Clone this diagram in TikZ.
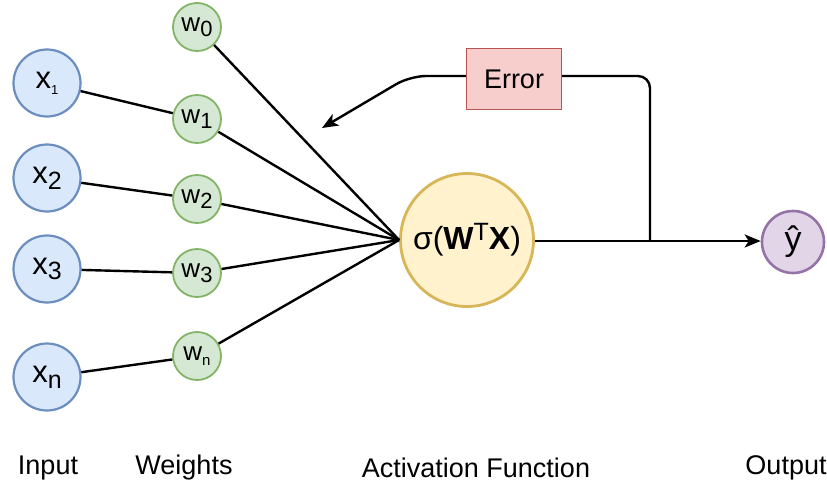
\documentclass[tikz,border=0pt]{standalone}
\usepackage{fontspec}
\setmainfont{Liberation Sans}
\usetikzlibrary{arrows.meta}
\newcommand\lblsize[1]{\fontsize{#1}{#1}\selectfont}
\newcommand\sbs[2]{\raisebox{-0.35ex}{\lblsize{#1}#2}}
\definecolor{inFill}{HTML}{DAE8FC}\definecolor{inLine}{HTML}{6C8EBF}
\definecolor{wFill}{HTML}{D5E8D4}\definecolor{wLine}{HTML}{82B366}
\definecolor{actFill}{HTML}{FFF2CC}\definecolor{actLine}{HTML}{D6B656}
\definecolor{errFill}{HTML}{F8CECC}\definecolor{errLine}{HTML}{B85450}
\definecolor{outFill}{HTML}{E1D5E7}\definecolor{outLine}{HTML}{9673A6}
\begin{document}
\begin{tikzpicture}[x=1pt,y=-1pt,
  innode/.style={circle,draw=inLine,fill=inFill,line width=2.2pt,minimum size=67pt,inner sep=0pt,font=\lblsize{31}},
  wnode/.style={circle,draw=wLine,fill=wFill,line width=1.8pt,minimum size=48pt,inner sep=0pt,font=\lblsize{26}},
  actnode/.style={circle,draw=actLine,fill=actFill,line width=2.8pt,minimum size=133pt,inner sep=0pt,font=\lblsize{32}},
  outnode/.style={circle,draw=outLine,fill=outFill,line width=2.6pt,minimum size=62pt,inner sep=0pt,font=\lblsize{34}},
  errnode/.style={rectangle,draw=errLine,fill=errFill,line width=1.4pt,minimum width=95pt,minimum height=61pt,inner sep=0pt,font=\lblsize{27}},
  caption/.style={font=\lblsize{27},inner sep=0pt},
  link/.style={line width=2.4pt,black},
  tip/.style={-{Stealth[length=16pt,width=13pt,inset=4pt]}}]
\useasboundingbox (0,0) rectangle (827,488);

% inputs
\node[innode] (x1) at (47,83) {x\sbs{13}{1}};
\node[innode] (x2) at (47,178) {x\sbs{25}{2}};
\node[innode] (x3) at (47,269) {x\sbs{25}{3}};
\node[innode] (xn) at (47,377) {x\sbs{25}{n}};

% weights
\node[wnode] (w0) at (197,27) {w\sbs{22}{0}};
\node[wnode] (w1) at (197,119) {w\sbs{22}{1}};
\node[wnode] (w2) at (197,199) {w\sbs{22}{2}};
\node[wnode] (w3) at (197,273) {w\sbs{22}{3}};
\node[wnode] (wn) at (197,356) {w\sbs{15}{n}};

% activation, output, error
\node[actnode] (act) at (467,240) {σ(\textbf{W}\raisebox{0.55ex}{\lblsize{25}T}\textbf{X})};
\node[outnode] (out) at (793,242) {ŷ};
\node[errnode] (err) at (514,79) {Error};

% input to weight links
\draw[link] (x1) -- (w1);
\draw[link] (x2) -- (w2);
\draw[link] (x3) -- (w3);
\draw[link] (xn) -- (wn);

% weights to activation
\foreach \w in {w0,w1,w2,w3,wn}
  \draw[link] (\w) -- (act.west);

% output link and error feedback
\coordinate (tap) at (650,241);
\coordinate (fbend) at (322,128);
\draw[link,tip] (act.east |- tap) -- (out.west |- tap);
\draw[link,rounded corners=12pt] (tap) -- (650,76) -- (err.east |- 0,76);
\draw[link,tip,rounded corners=16pt] (err.west |- 0,76) -- (410,76) -- (fbend);

% captions
\node[caption] (capIn) at (48,468) {Input};
\node[caption] (capW) at (184,468) {Weights};
\node[caption] (capA) at (476,468) {Activation Function};
\node[caption] (capO) at (786,468) {Output};
\end{tikzpicture}
\end{document}
